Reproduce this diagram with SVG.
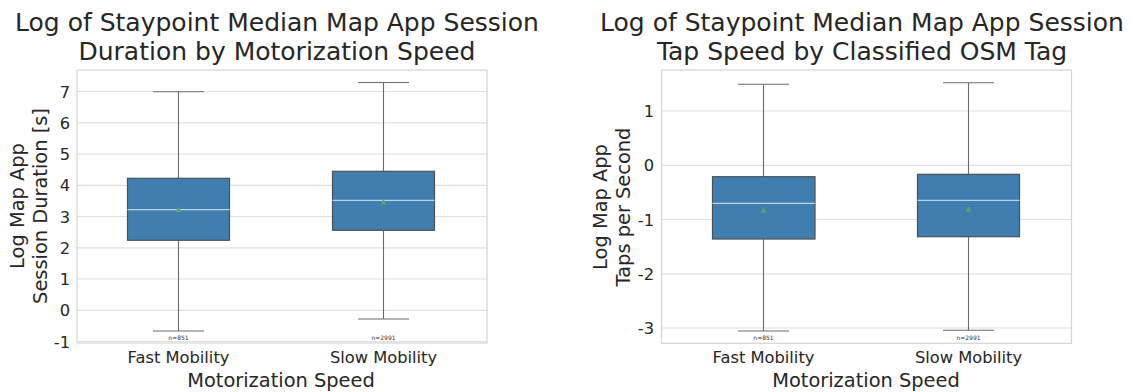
<svg xmlns="http://www.w3.org/2000/svg" width="1132" height="392" viewBox="0 0 1132 392">
  <style>
    text { font-family: "DejaVu Sans", "Liberation Sans", sans-serif; fill: #262626; }
    .title { font-size: 25px; text-anchor: middle; }
    .axlabel { font-size: 19.4px; text-anchor: middle; }
    .tick { font-size: 16.3px; }
    .ytick { text-anchor: end; }
    .xtick { text-anchor: middle; }
    .n { font-size: 6px; text-anchor: middle; fill: #333; }
    .frame { fill: none; stroke: #d4d4d4; stroke-width: 1.2; }
    .grid { stroke: #e0e0e0; stroke-width: 1.2; }
    .box { fill: #3f7eae; stroke: #4f4f4f; stroke-width: 1.2; }
    .whisker { stroke: #6b6b6b; stroke-width: 1.1; fill: none; }
    .median { stroke: #bcd4e8; stroke-width: 1.3; }
    .mean { fill: #55a868; }
  </style>
  <rect width="1132" height="392" fill="#ffffff"/>

  <!-- Left panel: session duration -->
  <g id="left-panel">
    <g id="left-grid">
      <line class="grid" x1="77" y1="91.5" x2="487" y2="91.5"/>
      <line class="grid" x1="77" y1="122.8" x2="487" y2="122.8"/>
      <line class="grid" x1="77" y1="154" x2="487" y2="154"/>
      <line class="grid" x1="77" y1="185.3" x2="487" y2="185.3"/>
      <line class="grid" x1="77" y1="216.5" x2="487" y2="216.5"/>
      <line class="grid" x1="77" y1="247.8" x2="487" y2="247.8"/>
      <line class="grid" x1="77" y1="279" x2="487" y2="279"/>
      <line class="grid" x1="77" y1="310.3" x2="487" y2="310.3"/>
      <line class="grid" x1="77" y1="341.5" x2="487" y2="341.5"/>
    </g>
    <rect class="frame" x="77" y="70" width="410" height="273"/>
    <g id="left-yticks" class="tick ytick">
      <text x="70" y="97.5">7</text>
      <text x="70" y="128.8">6</text>
      <text x="70" y="160">5</text>
      <text x="70" y="191.3">4</text>
      <text x="70" y="222.5">3</text>
      <text x="70" y="253.8">2</text>
      <text x="70" y="285">1</text>
      <text x="70" y="316.3">0</text>
      <text x="70" y="347.5">-1</text>
    </g>
    <g id="left-xticks" class="tick xtick">
      <text x="178.5" y="363.3">Fast Mobility</text>
      <text x="383.5" y="363.3">Slow Mobility</text>
    </g>
    <text class="title" x="277" y="31">Log of Staypoint Median Map App Session</text>
    <text class="title" x="277" y="60">Duration by Motorization Speed</text>
    <text class="axlabel" x="281" y="387.3">Motorization Speed</text>
    <text class="axlabel" transform="translate(24,206) rotate(-90)">Log Map App</text>
    <text class="axlabel" transform="translate(47,206) rotate(-90)">Session Duration [s]</text>
  </g>

  <g id="box-fast-duration">
    <line class="whisker" x1="178.5" y1="91.7" x2="178.5" y2="178.3"/>
    <line class="whisker" x1="178.5" y1="240.3" x2="178.5" y2="331"/>
    <line class="whisker" x1="153" y1="91.7" x2="204" y2="91.7"/>
    <line class="whisker" x1="153" y1="331" x2="204" y2="331"/>
    <rect class="box" x="127.5" y="178.3" width="102" height="62"/>
    <line class="median" x1="127.5" y1="209.7" x2="229.5" y2="209.7" stroke-width="2"/>
    <path class="mean" d="M178.5 206.5 L181.5 212 L175.5 212 Z"/>
    <text class="n" x="178.5" y="340">n=851</text>
  </g>

  <g id="box-slow-duration">
    <line class="whisker" x1="383.5" y1="82.5" x2="383.5" y2="171.3"/>
    <line class="whisker" x1="383.5" y1="230.3" x2="383.5" y2="319"/>
    <line class="whisker" x1="358" y1="82.5" x2="409" y2="82.5"/>
    <line class="whisker" x1="358" y1="319" x2="409" y2="319"/>
    <rect class="box" x="332.5" y="171.3" width="102" height="59"/>
    <line class="median" x1="332.5" y1="200.3" x2="434.5" y2="200.3"/>
    <path class="mean" d="M383.5 199 L386.5 204.5 L380.5 204.5 Z"/>
    <text class="n" x="383.5" y="340">n=2991</text>
  </g>

  <!-- Right panel: tap speed -->
  <g id="right-panel">
    <g id="right-grid">
      <line class="grid" x1="661.5" y1="111" x2="1071.5" y2="111"/>
      <line class="grid" x1="661.5" y1="165.3" x2="1071.5" y2="165.3"/>
      <line class="grid" x1="661.5" y1="219.5" x2="1071.5" y2="219.5"/>
      <line class="grid" x1="661.5" y1="273.8" x2="1071.5" y2="273.8"/>
      <line class="grid" x1="661.5" y1="328" x2="1071.5" y2="328"/>
    </g>
    <rect class="frame" x="661.5" y="70" width="410" height="273.3"/>
    <g id="right-yticks" class="tick ytick">
      <text x="654" y="117">1</text>
      <text x="654" y="171.3">0</text>
      <text x="654" y="225.5">-1</text>
      <text x="654" y="279.8">-2</text>
      <text x="654" y="334">-3</text>
    </g>
    <g id="right-xticks" class="tick xtick">
      <text x="763.5" y="363.3">Fast Mobility</text>
      <text x="968.5" y="363.3">Slow Mobility</text>
    </g>
    <text class="title" x="862" y="31">Log of Staypoint Median Map App Session</text>
    <text class="title" x="862" y="60">Tap Speed by Classified OSM Tag</text>
    <text class="axlabel" x="866" y="387.3">Motorization Speed</text>
    <text class="axlabel" transform="translate(607,207) rotate(-90)">Log Map App</text>
    <text class="axlabel" transform="translate(630,207) rotate(-90)">Taps per Second</text>
  </g>

  <g id="box-fast-taps">
    <line class="whisker" x1="763.5" y1="84.3" x2="763.5" y2="176.7"/>
    <line class="whisker" x1="763.5" y1="239" x2="763.5" y2="331"/>
    <line class="whisker" x1="738" y1="84.3" x2="789" y2="84.3"/>
    <line class="whisker" x1="738" y1="331" x2="789" y2="331"/>
    <rect class="box" x="712.5" y="176.7" width="102.5" height="62.3"/>
    <line class="median" x1="712.5" y1="203.3" x2="815" y2="203.3"/>
    <path class="mean" d="M763.5 207.3 L766.5 212.8 L760.5 212.8 Z"/>
    <text class="n" x="763.5" y="340">n=851</text>
  </g>

  <g id="box-slow-taps">
    <line class="whisker" x1="968.5" y1="82.7" x2="968.5" y2="174.3"/>
    <line class="whisker" x1="968.5" y1="236.7" x2="968.5" y2="330.3"/>
    <line class="whisker" x1="943" y1="82.7" x2="994" y2="82.7"/>
    <line class="whisker" x1="943" y1="330.3" x2="994" y2="330.3"/>
    <rect class="box" x="917.5" y="174.3" width="102" height="62.4"/>
    <line class="median" x1="917.5" y1="200.3" x2="1019.5" y2="200.3"/>
    <path class="mean" d="M968.5 206.3 L971.5 211.8 L965.5 211.8 Z"/>
    <text class="n" x="968.5" y="340">n=2991</text>
  </g>
</svg>
